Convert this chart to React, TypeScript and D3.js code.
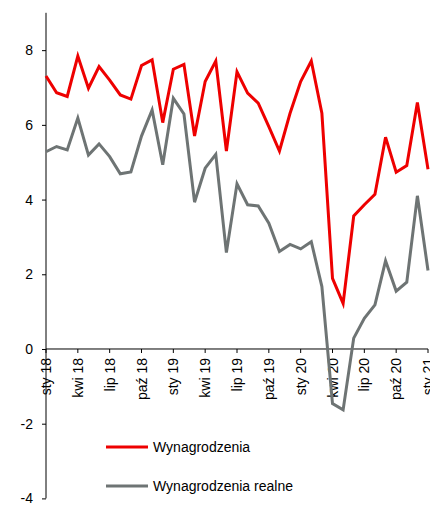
import { useEffect, useRef } from "react";
import * as d3 from "d3";

// monthly labels, Jan 2018 - Jan 2021
const months = [
  "sty 18", "lut 18", "mar 18", "kwi 18", "maj 18", "cze 18", "lip 18", "sie 18", "wrz 18", "paź 18", "lis 18", "gru 18",
  "sty 19", "lut 19", "mar 19", "kwi 19", "maj 19", "cze 19", "lip 19", "sie 19", "wrz 19", "paź 19", "lis 19", "gru 19",
  "sty 20", "lut 20", "mar 20", "kwi 20", "maj 20", "cze 20", "lip 20", "sie 20", "wrz 20", "paź 20", "lis 20", "gru 20",
  "sty 21",
];

const wynagrodzenia = [
  7.31, 6.86, 6.76, 7.84, 6.98, 7.56, 7.2, 6.8, 6.69, 7.59, 7.74, 6.06,
  7.49, 7.62, 5.7, 7.16, 7.71, 5.3, 7.42, 6.85, 6.58, 5.95, 5.3, 6.31,
  7.16, 7.71, 6.31, 1.89, 1.22, 3.56, 3.86, 4.14, 5.67, 4.73, 4.91, 6.6,
  4.81,
];

const realne = [
  5.28, 5.42, 5.33, 6.18, 5.19, 5.49, 5.15, 4.69, 4.74, 5.7, 6.4, 4.93,
  6.71, 6.29, 3.93, 4.84, 5.21, 2.58, 4.42, 3.86, 3.83, 3.37, 2.61, 2.8,
  2.68, 2.87, 1.67, -1.46, -1.63, 0.29, 0.82, 1.18, 2.36, 1.55, 1.79, 4.1,
  2.1,
];

const yTicks = [-4, -2, 0, 2, 4, 6, 8];

const series = [
  { name: "Wynagrodzenia", values: wynagrodzenia, color: "#ee0000" },
  { name: "Wynagrodzenia realne", values: realne, color: "#6e7474" },
];

export default function App() {
  const ref = useRef<SVGSVGElement>(null);

  useEffect(() => {
    const svg = d3.select(ref.current);
    svg.selectAll("*").remove();
    const font = "'Liberation Sans', Arial, sans-serif";

    const x = d3.scaleLinear().domain([0, months.length - 1]).range([46, 428]);
    const y = d3.scaleLinear().domain([-4, 9]).range([498.4, 12.8]);

    // Y axis
    const yAxis = d3.axisLeft(y).tickValues(yTicks).tickSize(4).tickPadding(9).tickFormat(d3.format("d"));
    const gy = svg.append("g").attr("transform", "translate(46,0)").call(yAxis);
    gy.select(".domain").attr("stroke", "#000").attr("d", `M0,${y(9)}V${y(-4)}`);
    gy.selectAll("line").attr("stroke", "#000");
    gy.selectAll("text")
      .attr("font-family", font)
      .attr("font-size", 14)
      .attr("fill", "#000")
      .text((d: any) => (d < 0 ? "-" + Math.abs(d) : String(d)));

    // X axis at zero
    const tickIdx = months.map((_, i) => i).filter((i) => i % 3 === 0);
    const gx = svg.append("g").attr("transform", `translate(0,${y(0)})`);
    gx.append("line")
      .attr("x1", x(0)).attr("x2", x(months.length - 1))
      .attr("stroke", "#000");
    gx.selectAll("line.tick")
      .data(tickIdx)
      .join("line")
      .attr("class", "tick")
      .attr("x1", (d) => x(d)).attr("x2", (d) => x(d))
      .attr("y1", 0).attr("y2", 4)
      .attr("stroke", "#000");
    gx.selectAll("text")
      .data(tickIdx)
      .join("text")
      .attr("transform", (d) => `translate(${x(d)},9) rotate(-90)`)
      .attr("text-anchor", "end")
      .attr("dy", "0.36em")
      .attr("font-family", font)
      .attr("font-size", 14)
      .attr("fill", "#000")
      .text((d) => months[d]);

    // Lines
    const line = d3.line<number>()
      .x((_, i) => x(i))
      .y((d) => y(d));

    svg.append("g")
      .selectAll("path")
      .data([series[1], series[0]])
      .join("path")
      .attr("fill", "none")
      .attr("stroke", (d) => d.color)
      .attr("stroke-width", 3)
      .attr("stroke-linejoin", "miter")
      .attr("d", (d) => line(d.values));

    // Legend
    const leg = svg.append("g").attr("transform", "translate(106,447)");
    series.forEach((s, i) => {
      const row = leg.append("g").attr("transform", `translate(0,${i * 39})`);
      row.append("line")
        .attr("x1", 0).attr("x2", 42)
        .attr("stroke", s.color)
        .attr("stroke-width", 3);
      row.append("text")
        .attr("x", 47)
        .attr("dy", "0.35em")
        .attr("font-family", font)
        .attr("font-size", 14)
        .attr("fill", "#000")
        .text(s.name);
    });
  }, []);

  return (
    <svg
      ref={ref}
      width={430}
      height={505}
      style={{ position: "absolute", left: 0, top: 0, background: "#fff" }}
    />
  );
}
